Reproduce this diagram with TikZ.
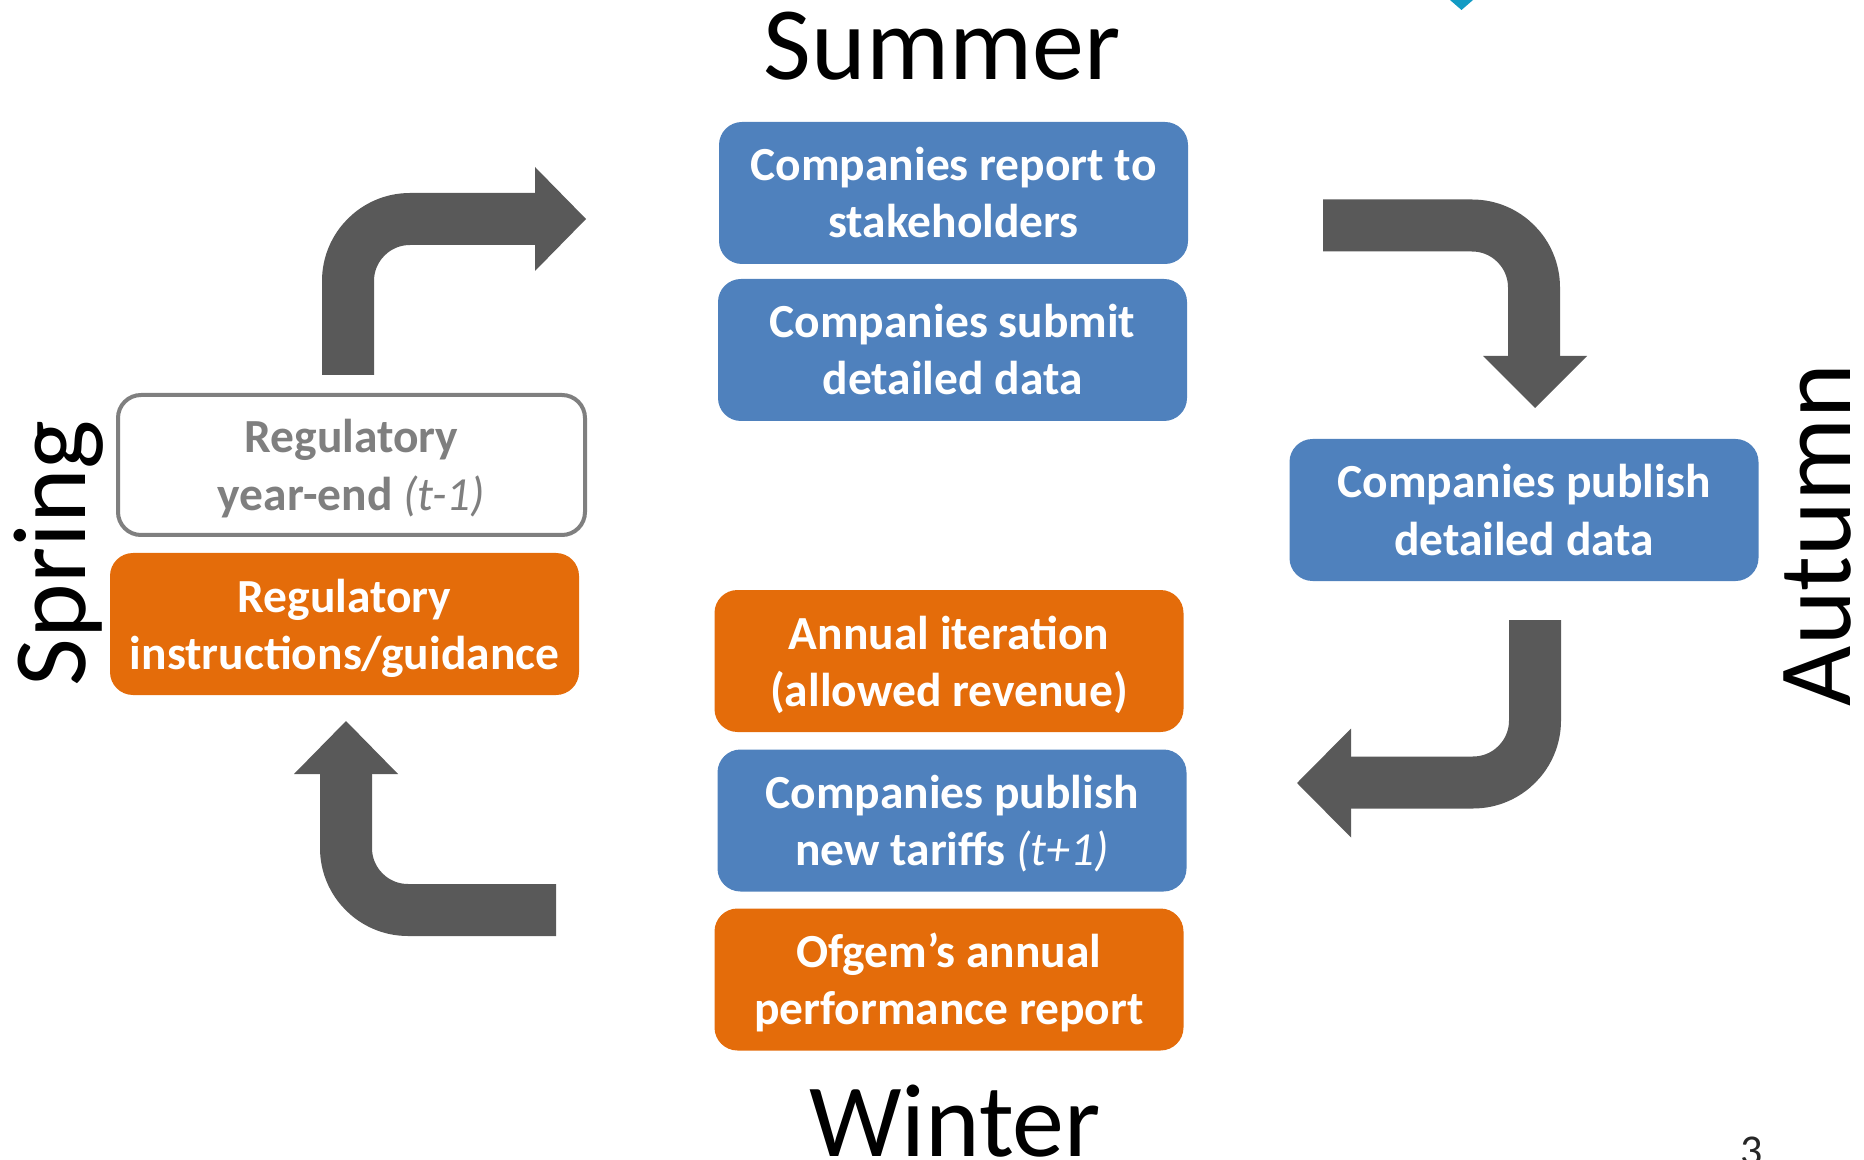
\documentclass[tikz,border=0pt]{standalone}
\usepackage{fontspec}
\setmainfont{Carlito}
\definecolor{boxblue}{RGB}{79,129,189}
\definecolor{boxorange}{RGB}{228,108,10}
\definecolor{arrowgray}{RGB}{89,89,89}
\definecolor{bordergray}{RGB}{127,127,127}
\definecolor{markteal}{RGB}{18,155,196}
\newcommand\twoline[2]{\rule{0pt}{22.5pt}#1\\#2\rule[-6pt]{0pt}{6pt}}
\begin{document}
\begin{tikzpicture}[x=0.5pt,y=-0.5pt,
  card/.style={rounded corners=11.5pt, minimum width=234.5pt, minimum height=71pt, inner sep=0pt, align=center, text=white, font=\fontsize{23.75}{28.5}\selectfont\bfseries},
  bluecard/.style={card, fill=boxblue},
  orangecard/.style={card, fill=boxorange},
  whitecard/.style={card, draw=bordergray, line width=2pt, text=bordergray, fill=white, minimum width=233.5pt, minimum height=70pt},
  season/.style={font=\fontsize{52}{60}\selectfont, text=black, inner sep=0pt},
  shaftline/.style={draw=arrowgray, line width=26pt, rounded corners=31pt},
  arrowhd/.style={fill=arrowgray},
]
\useasboundingbox (0,0) rectangle (1864,1160);

% boxes
\node[bluecard] (report) at (953.5,193) {\twoline{Companies report to}{stakeholders}};
\node[bluecard] (submit) at (952.5,350) {\twoline{Companies submit}{detailed data}};
\node[bluecard] (publish) at (1524,510) {\twoline{Companies publish}{detailed data}};
\node[orangecard] (iter) at (949,661) {\twoline{Annual iteration}{(allowed revenue)}};
\node[bluecard] (tariffs) at (952,820.5) {\twoline{Companies publish}{new tariffs {\mdseries\itshape (t+1)}}};
\node[orangecard] (ofgem) at (949,979.5) {\twoline{Ofgem’s annual}{performance report}};
\node[whitecard] (yearend) at (351.5,465) {\twoline{Regulatory}{year-end {\mdseries\itshape (t-1)}}};
\node[orangecard] (guid) at (344.5,624) {\twoline{Regulatory}{instructions/guidance}};

% seasons
\node[season, anchor=base] (summer) at (942,80) {Summer};
\node[season, anchor=base] (winter) at (955,1156) {Winter};
\node[season, anchor=base, rotate=90] (spring) at (85,553) {Spring};
\node[season, anchor=base, rotate=90] (autumn) at (1850,535) {Autumn};

% arrow A (spring -> summer)
\coordinate (a1) at (348,375);
\coordinate (a2) at (536,219);
\coordinate (a3) at (586,219);
\draw[shaftline] (a1) |- (a2);
\fill[arrowhd] (a3) -- ++(-51,-52) -- ++(0,104) -- cycle;

% arrow B (summer -> autumn)
\coordinate (b1) at (1323,225.5);
\coordinate (b2) at (1534,357);
\coordinate (b3) at (1535,408);
\draw[shaftline] (b1) -| (b2);
\fill[arrowhd] (b3) -- ++(-52,-52) -- ++(104,0) -- cycle;

% arrow C (autumn -> winter)
\coordinate (c1) at (1535,620);
\coordinate (c2) at (1350,782.5);
\coordinate (c3) at (1297,783);
\draw[shaftline] (c1) |- (c2);
\fill[arrowhd] (c3) -- ++(54,-54.5) -- ++(0,109) -- cycle;

% arrow D (winter -> spring)
\coordinate (d1) at (556,910);
\coordinate (d2) at (346,773);
\coordinate (d3) at (346,721);
\draw[shaftline] (d1) -| (d2);
\fill[arrowhd] (d3) -- ++(-52,53) -- ++(104,0) -- cycle;

% teal mark and page number
\fill[markteal] (1450,0) -- (1473,0) -- (1461.5,10) -- cycle;
\node[anchor=base, inner sep=0pt, font=\fontsize{22}{26}\selectfont, text=black!85] (pagenum) at (1752,1165) {3};
\end{tikzpicture}
\end{document}
